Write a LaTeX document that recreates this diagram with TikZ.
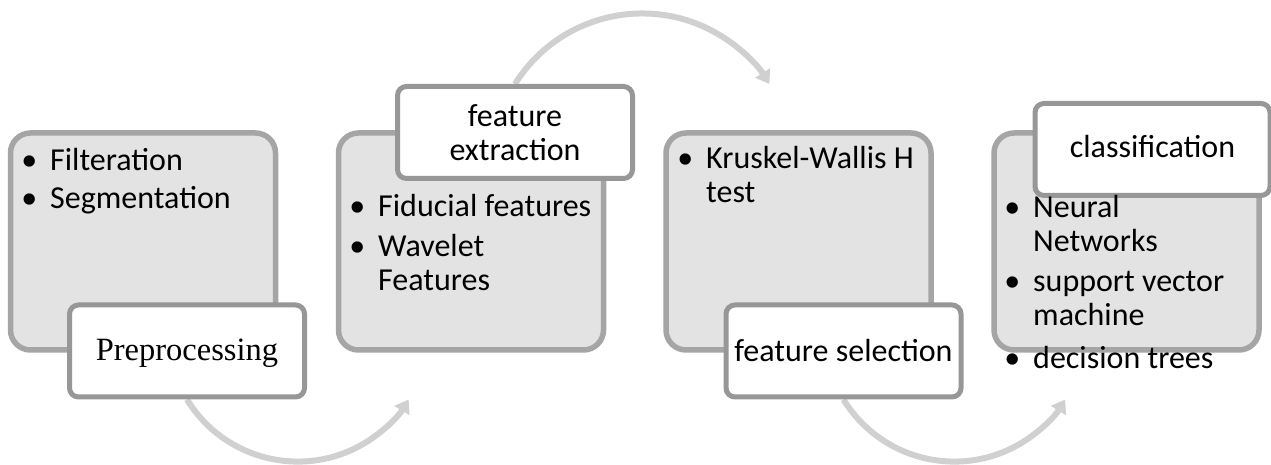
\documentclass[tikz,border=0pt]{standalone}
\usepackage{fontspec}
\setmainfont{Carlito}
\newfontfamily\timesfont{Liberation Serif}
\usetikzlibrary{arrows.meta,backgrounds}
\definecolor{boxfill}{HTML}{E3E3E3}
\definecolor{boxline}{HTML}{A5A5A5}
\definecolor{labline}{HTML}{979797}
\definecolor{arrowgray}{HTML}{D0D0D0}
\newcommand{\bitem}{\makebox[0pt][r]{•\hspace{13pt}}}
\begin{document}
\begin{tikzpicture}[x=1pt,y=1pt,
  stagebox/.style={draw=boxline, fill=boxfill, line width=5.5pt, rounded corners=20pt,
    minimum width=265pt, minimum height=217pt, inner sep=0pt},
  labelbox/.style={draw=labline, fill=white, line width=5pt, rounded corners=9pt,
    minimum width=235pt, minimum height=92pt, inner sep=0pt, align=center,
    font=\fontsize{32}{34}\selectfont},
  bodytext/.style={anchor=base west, inner sep=0pt, align=left,
    font=\fontsize{32}{34}\selectfont},
  flow/.style={draw=arrowgray, line width=6pt, -{Triangle[width=17pt,length=13pt]}}
]
\useasboundingbox (0,0) rectangle (1271,465);

% stage boxes
\node[stagebox] (box1) at (143,223.5) {};
\node[stagebox] (box2) at (471,223.5) {};
\node[stagebox] (box3) at (798.5,223.5) {};
\node[stagebox] (box4) at (1126.5,223.5) {};

% labels
\node[labelbox, font=\fontsize{32.5}{34}\selectfont\timesfont, text depth=2pt] (lab1) at (187,114) {Preprocessing};
\node[labelbox] (lab2) at (515,332.5) {feature\\extraction};
\node[labelbox] (lab3) at (843.5,114) {feature selection};
\node[labelbox, text depth=6pt] (lab4) at (1152.5,315.5) {classification};

% body texts (anchored at the baseline of their last line)
\node[bodytext] (txt1) at (50,256) {\bitem Filteration\\[4pt]\bitem Segmentation};
\node[bodytext] (txt2) at (378,174) {\bitem Fiducial features\\[6pt]\bitem Wavelet\\Features};
\node[bodytext] (txt3) at (706,262) {\bitem Kruskel-Wallis H\\test};
\node[bodytext] (txt4) at (1033,96) {\bitem Neural\\Networks\\[6pt]\bitem support vector\\machine\\[9pt]\bitem decision trees};

% arrows
\begin{scope}[on background layer]
\draw[flow] (lab1.south) arc[start angle=211.5, end angle=328.5, radius=130];
\draw[flow] (lab2.north) arc[start angle=148, end angle=32, radius=150];
\draw[flow] (lab3.south) arc[start angle=211.5, end angle=328.5, radius=130];
\end{scope}
\end{tikzpicture}
\end{document}
